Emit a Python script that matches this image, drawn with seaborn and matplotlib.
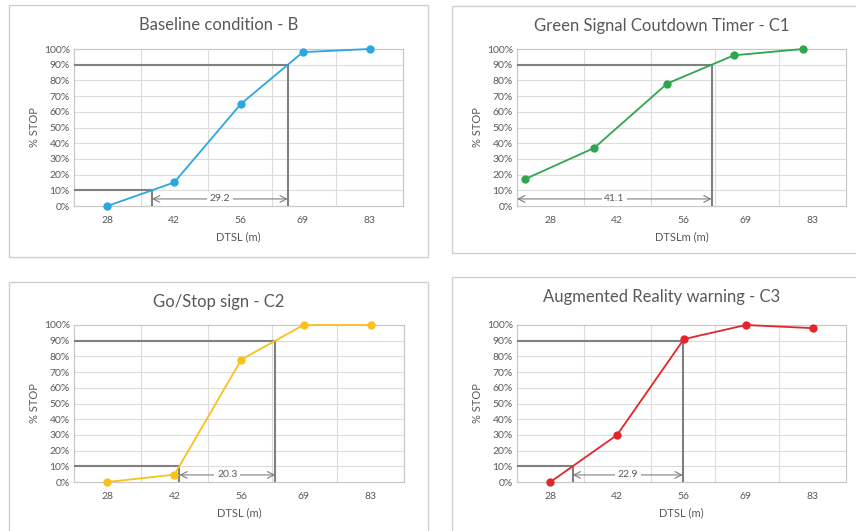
import matplotlib
matplotlib.use("Agg")
import matplotlib.pyplot as plt
import seaborn as sns
import pandas as pd
from matplotlib.patches import Rectangle

# tick labels on the DTSL axis
DTSL_TICKS = [28, 42, 56, 69, 83]
PCT_TICKS = [0, 10, 20, 30, 40, 50, 60, 70, 80, 90, 100]

# one series per condition: distance to stop line (m) and % of drivers stopping
titles = ["Baseline condition - B", "Green Signal Coutdown Timer - C1",
          "Go/Stop sign - C2", "Augmented Reality warning - C3"]
xlabels = ["DTSL (m)", "DTSLm (m)", "DTSL (m)", "DTSL (m)"]
colors = ["#2AA7DF", "#2EA64F", "#F8C11C", "#E3262B"]

dtsl_b = [28, 42, 56, 69, 83]
stop_b = [0, 15, 65, 98, 100]
dtsl_c1 = [22.6, 37.2, 52.5, 66.5, 81]
stop_c1 = [17, 37, 78, 96, 100]
dtsl_c2 = [28, 42, 56, 69, 83]
stop_c2 = [0, 4.7, 78, 100, 100]
dtsl_c3 = [28, 42, 56, 69, 83]
stop_c3 = [0, 30, 91, 100, 98]

gap_labels = ["29.2", "41.1", "20.3", "22.9"]

series = [(dtsl_b, stop_b), (dtsl_c1, stop_c1), (dtsl_c2, stop_c2), (dtsl_c3, stop_c3)]

XLIM = (21, 90)
GREY = "#595959"
REF = "#808080"


def crossing(x, y, level):
    """First x where the polyline reaches `level` (None if it starts above)."""
    if y[0] >= level:
        return None
    for i in range(len(y) - 1):
        if y[i] < level <= y[i + 1]:
            return x[i] + (x[i + 1] - x[i]) * (level - y[i]) / (y[i + 1] - y[i])
    return None


sns.set_style("white")
plt.rcParams["font.family"] = ["Lato", "DejaVu Sans"]

W, H = 856, 531
fig = plt.figure(figsize=(W / 100, H / 100), dpi=100)

# chart boxes (px): left, top, right, bottom
boxes = [(9, 5, 428, 257), (452, 6, 880, 253), (9, 282, 428, 560), (452, 277, 880, 560)]
# plot areas (px): left, top, right, bottom
areas = [(74, 49, 403, 206), (517, 49, 846, 206), (74, 325, 404, 482), (517, 325, 846, 482)]

for k in range(4):
    bl, bt, br, bb = boxes[k]
    fig.patches.append(Rectangle((bl / W, 1 - bb / H), (br - bl) / W, (bb - bt) / H,
                                 transform=fig.transFigure, fill=False,
                                 edgecolor="#D0D0D0", lw=1.0, zorder=0))
    al, at, ar, ab = areas[k]
    ax = fig.add_axes([al / W, 1 - ab / H, (ar - al) / W, (ab - at) / H])

    x, y = series[k]
    df = pd.DataFrame({"dtsl": x, "stop": y})
    sns.lineplot(data=df, x="dtsl", y="stop", ax=ax, color=colors[k], lw=1.3,
                 marker="o", markersize=6, markeredgewidth=0, zorder=5, clip_on=False)

    ax.set_xlim(*XLIM)
    ax.set_ylim(0, 100)
    ax.set_xticks(DTSL_TICKS)
    ax.set_xticklabels([str(t) for t in DTSL_TICKS])
    ax.set_yticks(PCT_TICKS)
    ax.set_yticklabels([f"{t}%" for t in PCT_TICKS])
    ax.tick_params(length=0, labelsize=7.5, labelcolor=GREY, pad=3)
    ax.tick_params(axis="x", pad=7)

    # gridlines: every 10 % and halfway between distance labels
    for t in PCT_TICKS[1:-1]:
        ax.axhline(t, color="#DCDCDC", lw=0.8, zorder=1)
    for a, b in zip(DTSL_TICKS[:-1], DTSL_TICKS[1:]):
        ax.axvline((a + b) / 2, color="#DCDCDC", lw=0.8, zorder=1)
    for s in ax.spines.values():
        s.set_color("#C8C8C8")
        s.set_linewidth(0.9)

    # 10 % and 90 % reference lines
    x10 = crossing(x, y, 10)
    x90 = crossing(x, y, 90)
    ax.plot([XLIM[0], x90], [90, 90], color=REF, lw=1.5, zorder=3)
    ax.plot([x90, x90], [0, 90], color=REF, lw=1.5, zorder=3)
    if x10 is not None:
        ax.plot([XLIM[0], x10], [10, 10], color=REF, lw=1.5, zorder=3)
        ax.plot([x10, x10], [0, 10], color=REF, lw=1.5, zorder=3)
    start = x10 if x10 is not None else XLIM[0]
    ax.annotate("", xy=(start, 4.5), xytext=(x90, 4.5),
                arrowprops=dict(arrowstyle="<->", color=REF, lw=0.8,
                                shrinkA=0, shrinkB=0, mutation_scale=12), zorder=4)
    ax.text((start + x90) / 2, 4.5, gap_labels[k], ha="center", va="center",
            fontsize=7.5, color=GREY, zorder=6,
            bbox=dict(boxstyle="square,pad=0.25", fc="white", ec="none"))

    ax.set_xlabel(xlabels[k], fontsize=8, color=GREY, labelpad=5)
    ax.set_ylabel("% STOP", fontsize=8, color=GREY, labelpad=3)

    fig.text((bl + br) / 2 / W if br < W else (bl + 872) / 2 / W,
             1 - (bt + 20) / H, titles[k], ha="center", va="center",
             fontsize=12, color=GREY)

fig.savefig("out.png", dpi=100, facecolor="white")
